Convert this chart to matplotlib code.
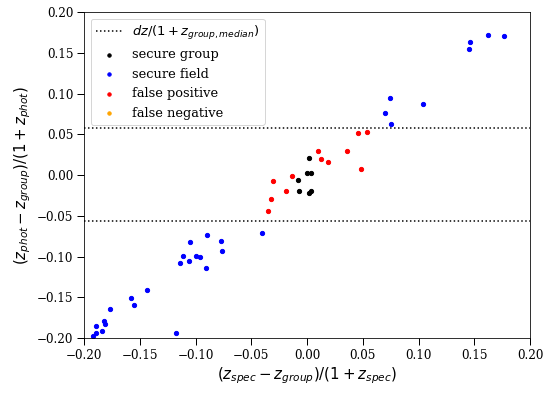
import matplotlib
matplotlib.use("Agg")
import matplotlib.pyplot as plt
import numpy as np

plt.rcParams['font.family'] = 'serif'
plt.rcParams['font.serif'] = ['DejaVu Serif']
plt.rcParams['mathtext.fontset'] = 'dejavusans'

# secure group (black)
grp_x = [0.0021, 0.0003, 0.0039, -0.0078, -0.0069, 0.0033, 0.0021]
grp_y = [0.0205, 0.0028, 0.0021, -0.0065, -0.0200, -0.0200, -0.0225]

# false positive (red)
fp_x = [-0.0347, -0.0320, -0.0302, -0.0186, -0.0132, 0.0101, 0.0128, 0.0191, 0.0361, 0.0460, 0.0487, 0.0541]
fp_y = [-0.0436, -0.0298, -0.0077, -0.0190, -0.0016, 0.0291, 0.0193, 0.0156, 0.0291, 0.0512, 0.0070, 0.0524]

# secure field (blue)
fld_x = [0.1626, 0.1770, 0.1465, 0.1456, 0.0747, 0.0702, 0.0756, 0.1043, -0.0401, -0.0894,
         -0.1047, -0.0769, -0.0760, -0.1109, -0.0993, -0.0957, -0.1136, -0.1056, -0.0903, -0.1432,
         -0.1576, -0.1549, -0.1765, -0.1818, -0.1809, -0.1890, -0.1836, -0.1890, -0.1917, -0.1172]
fld_y = [0.1714, 0.1702, 0.1628, 0.1542, 0.0941, 0.0757, 0.0622, 0.0867, -0.0715, -0.0740,
         -0.0826, -0.0813, -0.0936, -0.0998, -0.0998, -0.1010, -0.1083, -0.1059, -0.1145, -0.1415,
         -0.1513, -0.1599, -0.1648, -0.1795, -0.1832, -0.1856, -0.1918, -0.1942, -0.1979, -0.1942]

# false negative (orange) - none
fn_x = []
fn_y = []

dz_upper = 0.058
dz_lower = -0.056

fig = plt.figure(figsize=(551/72, 394/72), dpi=72)
ax = fig.add_axes([0.1525, 0.142, 0.8095, 0.8275])

ax.axhline(dz_upper, color='black', ls=':', lw=1.5, label=r'$dz/(1+z_{group,median})$')
ax.axhline(dz_lower, color='black', ls=':', lw=1.5)
ax.scatter(grp_x, grp_y, s=18, color='black', label='secure group')
ax.scatter(fld_x, fld_y, s=18, color='blue', label='secure field')
ax.scatter(fp_x, fp_y, s=18, color='red', label='false positive')
ax.scatter(fn_x, fn_y, s=18, color='orange', label='false negative')

ax.set_xlim(-0.2, 0.2)
ax.set_ylim(-0.2, 0.2)
ax.set_xticks(np.linspace(-0.2, 0.2, 9))
ax.set_yticks(np.linspace(-0.2, 0.2, 9))
ax.tick_params(direction='out', length=7, width=1, labelsize=12)
ax.set_xlabel(r'$(z_{spec}-z_{group})/(1+z_{spec})$', fontsize=15)
ax.set_ylabel(r'$(z_{phot}-z_{group})/(1+z_{phot})$', fontsize=15)
leg = ax.legend(loc='upper left', fontsize=13, markerscale=0.8)

fig.savefig('out.png', dpi=72)
